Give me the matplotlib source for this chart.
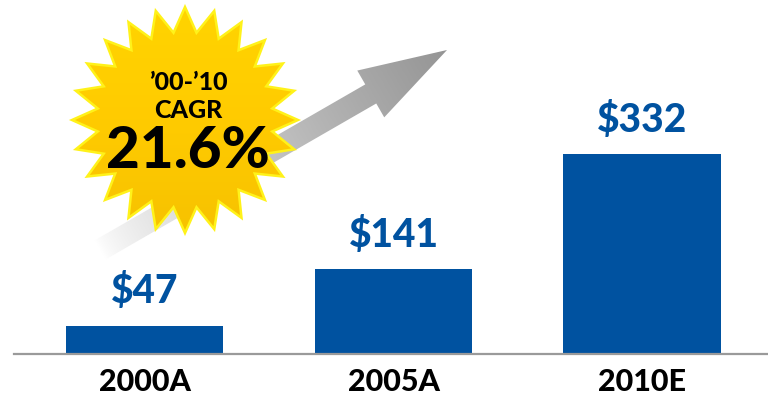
import numpy as np
import matplotlib
matplotlib.use("Agg")
import matplotlib.pyplot as plt
from matplotlib.patches import Polygon
from matplotlib.colors import LinearSegmentedColormap

plt.rcParams["font.family"] = ["Lato", "DejaVu Sans"]

years = ["2000A", "2005A", "2010E"]
revenue = [47, 141, 332]
value_labels = ["$47", "$141", "$332"]
cagr_period = "\u201900-\u201910"
cagr_label = "CAGR"
cagr_value = "21.6%"

BAR_BLUE = "#0052A0"
W, H = 768, 399

fig = plt.figure(figsize=(W / 100, H / 100), dpi=100)

# bar axes, placed in pixel terms so the baseline sits low in the frame
ax = fig.add_axes([14 / W, 45 / H, 754 / W, 354 / H])
x = np.arange(len(years))
ax.bar(x, revenue, width=0.632, color=BAR_BLUE, zorder=2)
ax.set_xlim(-0.527, 2.507)
ax.set_ylim(0, 588)
for xi, v, lab in zip(x, revenue, value_labels):
    ax.annotate(lab, (xi, v), xytext=(0, 16), textcoords="offset points",
                ha="center", va="baseline", fontsize=28, fontweight="black",
                color=BAR_BLUE)
ax.set_xticks(x)
ax.set_xticklabels(years, fontsize=22, fontweight="black")
ax.tick_params(axis="x", length=0, pad=10)
ax.set_yticks([])
for side in ("top", "left", "right"):
    ax.spines[side].set_visible(False)
ax.spines["bottom"].set_color("#9a9a9a")
ax.spines["bottom"].set_linewidth(1.6)

# overlay in pixel coordinates for the growth arrow and the starburst
ov = fig.add_axes([0, 0, 1, 1], zorder=3)
ov.set_xlim(0, W)
ov.set_ylim(H, 0)
ov.axis("off")
ov.patch.set_alpha(0)

# arrow: shaft + head along the line tail -> tip
tail = np.array([100.0, 250.0])
tip = np.array([447.0, 50.0])
d = tip - tail
L = np.hypot(*d)
u = d / L
n = np.array([-u[1], u[0]])
head_len, head_hw, shaft_hw = 88, 27, 11
local = [(0, -shaft_hw), (L - head_len, -shaft_hw), (L - head_len, -head_hw),
         (L, 0), (L - head_len, head_hw), (L - head_len, shaft_hw), (0, shaft_hw)]
arrow_pts = np.array([tail + s * u + t * n for s, t in local])
arrow = Polygon(arrow_pts, closed=True, facecolor="none", edgecolor="none")
ov.add_patch(arrow)

x0, y0 = arrow_pts.min(axis=0) - 2
x1, y1 = arrow_pts.max(axis=0) + 2
gx, gy = np.meshgrid(np.linspace(x0, x1, 400), np.linspace(y0, y1, 300))
proj = ((gx - tail[0]) * u[0] + (gy - tail[1]) * u[1]) / L
proj = np.clip(proj, 0, 1) ** 0.7
grey = LinearSegmentedColormap.from_list("fade", ["#ffffff", "#cfcfcf", "#959595"])
img = ov.imshow(proj, cmap=grey, vmin=0, vmax=1, origin="lower",
                extent=(x0, x1, y0, y1), aspect="auto", zorder=1)
img.set_clip_path(arrow)

# starburst
cx, cy = 185, 120
r_out, r_in, n_pts = 113, 88, 24
ang = np.pi / 2 + np.arange(2 * n_pts) * np.pi / n_pts
rad = np.where(np.arange(2 * n_pts) % 2 == 0, r_out, r_in)
star_pts = np.column_stack([cx + rad * np.cos(ang), cy - rad * np.sin(ang)])
star = Polygon(star_pts, closed=True, facecolor="none", edgecolor="#FFF21A",
               linewidth=1.8, zorder=4)
ov.add_patch(star)
sg = np.linspace(0, 1, 200).reshape(-1, 1)
yellow = LinearSegmentedColormap.from_list("sun", ["#FFD400", "#FFCB00", "#F7C200"])
simg = ov.imshow(sg, cmap=yellow, origin="lower", aspect="auto",
                 extent=(cx - r_out, cx + r_out, cy - r_out, cy + r_out), zorder=3)
simg.set_clip_path(star)

ov.text(188, 82, cagr_period, ha="center", va="center", fontsize=18,
        fontweight="black", color="black", zorder=5)
ov.text(188, 110, cagr_label, ha="center", va="center", fontsize=18,
        fontweight="black", color="black", zorder=5)
ov.text(188, 152, cagr_value, ha="center", va="center", fontsize=42,
        fontweight="black", color="black", zorder=5)

fig.savefig("out.png", dpi=100)
plt.close(fig)
